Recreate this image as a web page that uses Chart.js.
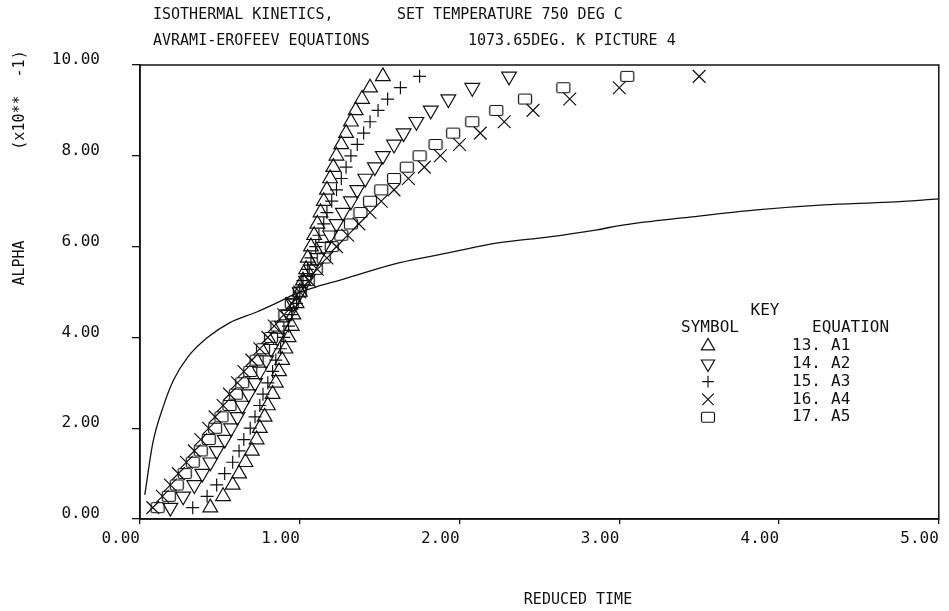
<!DOCTYPE html>
<html><head><meta charset="utf-8">
<script src="https://cdn.jsdelivr.net/npm/chart.js@4.4.0/dist/chart.umd.min.js"></script>
<style>html,body{margin:0;padding:0;background:#fff;}canvas{display:block;}</style>
</head><body>
<canvas id="c" width="949" height="611"></canvas>
<script>
// ---------- texts ----------
const titleLine1 = ["ISOTHERMAL KINETICS,", "SET TEMPERATURE 750 DEG C"];
const titleLine2 = ["AVRAMI-EROFEEV EQUATIONS", "1073.65DEG. K PICTURE 4"];
const xAxisTitle = "REDUCED TIME";
const yAxisTitle = "ALPHA";
const yAxisFactor = "(x10**  -1)";
const legendTitle = "KEY";
const legendHeaders = ["SYMBOL", "EQUATION"];
const legendNumbers = ["13.", "14.", "15.", "16.", "17."];
const legendNames = ["A1", "A2", "A3", "A4", "A5"];

// ---------- axes ----------
const xMin = 0, xMax = 5, xStep = 1;
const yMin = 0, yMax = 10, yStep = 2;

// ---------- data (alpha in units of 10**-1) ----------
const alphaLevels = [0.25,0.50,0.75,1.00,1.25,1.50,1.75,2.00,2.25,2.50,2.75,3.00,3.25,3.50,3.75,4.00,4.25,4.50,4.75,5.00,
  5.25,5.50,5.75,6.00,6.25,6.50,6.75,7.00,7.25,7.50,7.75,8.00,8.25,8.50,8.75,9.00,9.25,9.50,9.75];
// reduced time of each symbol series
const timeA1 = [0.44,0.52,0.58,0.62,0.66,0.70,0.73,0.75,0.78,0.80,0.83,0.85,0.87,0.89,0.91,0.93,0.95,0.96,0.98,1.00,
  1.02,1.04,1.05,1.07,1.09,1.11,1.13,1.15,1.17,1.19,1.21,1.23,1.26,1.29,1.32,1.35,1.39,1.44,1.52];
const timeA2 = [0.19,0.27,0.34,0.39,0.44,0.48,0.53,0.57,0.61,0.64,0.68,0.72,0.75,0.79,0.82,0.86,0.89,0.93,0.96,1.00,
  1.04,1.07,1.11,1.15,1.19,1.23,1.27,1.32,1.36,1.41,1.47,1.52,1.59,1.65,1.73,1.82,1.93,2.08,2.31];
const timeA3 = [0.33,0.42,0.48,0.53,0.58,0.62,0.65,0.69,0.72,0.75,0.77,0.80,0.83,0.85,0.88,0.90,0.93,0.95,0.98,1.00,
  1.02,1.05,1.07,1.10,1.12,1.15,1.17,1.20,1.23,1.26,1.29,1.32,1.36,1.40,1.44,1.49,1.55,1.63,1.75];
const timeA4 = [0.08,0.14,0.19,0.24,0.29,0.34,0.38,0.43,0.47,0.52,0.56,0.61,0.65,0.70,0.75,0.80,0.84,0.90,0.95,1.00,
  1.06,1.11,1.17,1.23,1.30,1.37,1.44,1.51,1.59,1.68,1.78,1.88,2.00,2.13,2.28,2.46,2.69,3.00,3.50];
const timeA5 = [0.11,0.18,0.23,0.28,0.33,0.38,0.43,0.47,0.51,0.56,0.60,0.64,0.69,0.73,0.77,0.82,0.86,0.91,0.95,1.00,
  1.05,1.10,1.15,1.20,1.26,1.32,1.38,1.44,1.51,1.59,1.67,1.75,1.85,1.96,2.08,2.23,2.41,2.65,3.05];
// solid experimental curve
const curveTime  = [0.03,0.08,0.145,0.21,0.30,0.42,0.56,0.73,0.85,0.98,1.10,1.27,1.62,1.93,2.24,2.55,2.86,3.03,3.44,3.86,4.28,4.69,5.00];
const curveAlpha = [0.53,1.67,2.47,3.06,3.57,3.99,4.32,4.56,4.75,4.97,5.11,5.28,5.64,5.86,6.08,6.21,6.37,6.48,6.65,6.81,6.92,6.98,7.05];

// ---------- build ----------
const INK = '#111';
const FONT = '"DejaVu Sans Mono", monospace';
function pts(xs, ys){ return xs.map((x,i)=>({x:x, y:ys[i]})); }
function makeBox(){
  const c=document.createElement('canvas'); c.width=16; c.height=13;
  const g=c.getContext('2d'); g.strokeStyle=INK; g.lineWidth=1.2;
  g.beginPath(); if(g.roundRect){g.roundRect(1.5,1.5,13,10,1.5);}else{g.rect(1.5,1.5,13,10);} g.stroke();
  return c;
}
const boxStyle = makeBox();
const symbolStyles = [
  {pointStyle:'triangle', radius:8.5, rotation:0},
  {pointStyle:'triangle', radius:8.5, rotation:180},
  {pointStyle:'cross', radius:6.5, rotation:0},
  {pointStyle:'crossRot', radius:9, rotation:0},
  {pointStyle:boxStyle, radius:7, rotation:0}
];
const seriesTimes = [timeA1, timeA2, timeA3, timeA4, timeA5];

const datasets = seriesTimes.map((t,i)=>({
  label: legendNumbers[i]+' '+legendNames[i],
  data: pts(t, alphaLevels),
  showLine:false,
  pointStyle: symbolStyles[i].pointStyle,
  pointRadius: symbolStyles[i].radius,
  pointRotation: symbolStyles[i].rotation,
  pointBorderColor: INK,
  pointBackgroundColor: 'rgba(0,0,0,0)',
  pointBorderWidth: 1.2
}));
datasets.push({
  label:'curve', data: pts(curveTime, curveAlpha), showLine:true,
  borderColor: INK, borderWidth:1.3, pointRadius:0, cubicInterpolationMode:'monotone', fill:false
});

const decor = {
  id:'decor',
  afterDraw(chart){
    const ctx=chart.ctx, a=chart.chartArea;
    ctx.save();
    ctx.strokeStyle=INK; ctx.lineWidth=1.5;
    ctx.strokeRect(a.left, a.top, a.right-a.left, a.bottom-a.top);
    ctx.fillStyle=INK; ctx.font='15px '+FONT; ctx.textBaseline='middle'; ctx.textAlign='left';
    ctx.fillText(titleLine1[0], 153, 15);
    ctx.fillText(titleLine1[1], 397, 15);
    ctx.fillText(titleLine2[0], 153, 41);
    ctx.fillText(titleLine2[1], 468, 41);
    ctx.textAlign='center';
    ctx.fillText(xAxisTitle, 578, 600);
    ctx.save(); ctx.translate(20, 263); ctx.rotate(-Math.PI/2); ctx.fillText(yAxisTitle, 0, 0); ctx.restore();
    ctx.save(); ctx.translate(20, 100); ctx.rotate(-Math.PI/2); ctx.fillText(yAxisFactor, 0, 0); ctx.restore();
    // key
    ctx.font='16px '+FONT;
    ctx.fillText(legendTitle, 765, 311);
    ctx.fillText(legendHeaders[0], 710, 328);
    ctx.textAlign='left';
    ctx.fillText(legendHeaders[1], 812, 328);
    for(let i=0;i<legendNames.length;i++){
      const y = 346 + i*17.8;
      ctx.fillStyle=INK;
      ctx.fillText(legendNumbers[i], 792, y);
      ctx.fillText(legendNames[i], 831, y);
      ctx.lineWidth=1.2; ctx.strokeStyle=INK; ctx.fillStyle='rgba(0,0,0,0)';
      Chart.helpers.drawPoint(ctx, {pointStyle:symbolStyles[i].pointStyle, radius:symbolStyles[i].radius*0.9, rotation:symbolStyles[i].rotation, borderWidth:1.2}, 708, y);
    }
    ctx.restore();
  }
};

new Chart(document.getElementById('c'), {
  type:'scatter',
  data:{datasets},
  options:{
    responsive:false, animation:false, devicePixelRatio:1,
    layout:{padding:{top:65, right:6, left:0, bottom:0}},
    plugins:{legend:{display:false}, tooltip:{enabled:false}, title:{display:false}},
    scales:{
      x:{type:'linear', min:xMin, max:xMax,
        afterFit(s){ s.height = 92; },
        ticks:{stepSize:xStep, align:'end', padding:5, color:INK, font:{family:FONT, size:16}, callback:v=>v.toFixed(2), maxRotation:0},
        grid:{drawOnChartArea:false, drawTicks:true, tickLength:5, color:INK, lineWidth:1.3},
        border:{display:true, color:INK, width:1.5}},
      y:{type:'linear', min:yMin, max:yMax,
        afterFit(s){ s.width = 140; },
        ticks:{stepSize:yStep, padding:32, labelOffset:-5, color:INK, font:{family:FONT, size:16}, callback:v=>v.toFixed(2)},
        grid:{drawOnChartArea:false, drawTicks:true, tickLength:8, color:INK, lineWidth:1.3},
        border:{display:true, color:INK, width:1.5}}
    }
  },
  plugins:[decor]
});
</script>
</body></html>
